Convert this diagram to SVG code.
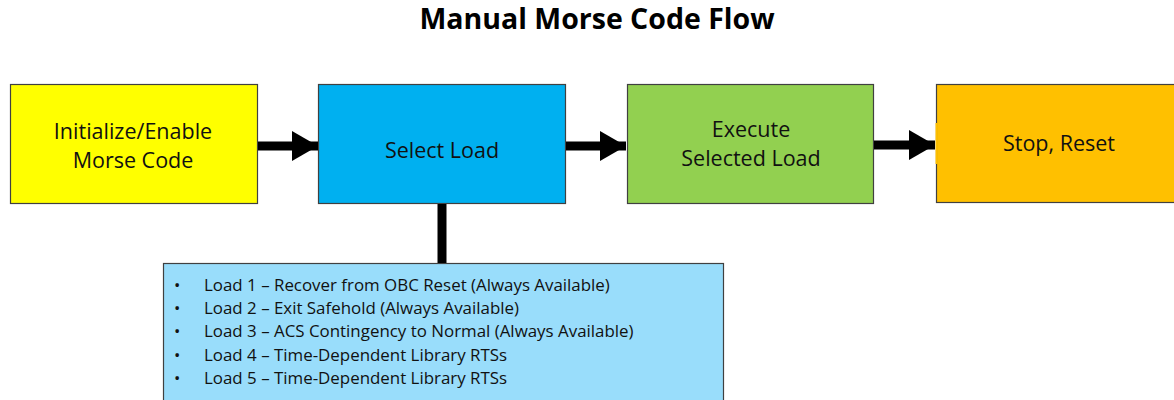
<svg xmlns="http://www.w3.org/2000/svg" width="1174" height="400" viewBox="0 0 1174 400">
<style>
.box{stroke:#404040;stroke-width:1.2}
.t{font-family:"Open Sans","Liberation Sans",sans-serif;font-size:21.5px;fill:#111;text-anchor:middle}
.li{font-family:"Open Sans","Liberation Sans",sans-serif;font-size:16.9px;fill:#111}
.title{font-family:"Open Sans","Liberation Sans",sans-serif;font-size:28.5px;font-weight:bold;fill:#000;text-anchor:middle}
.conn{stroke:#000;stroke-width:9;fill:none}
</style>
<defs>
<marker id="ah" markerWidth="26" markerHeight="30" refX="26" refY="15" markerUnits="userSpaceOnUse" orient="auto">
<path d="M0,0 L26,15 L0,30 Z" fill="#000"/>
</marker>
</defs>
<rect width="1174" height="400" fill="#fff"/>
<text class="title" x="597" y="29">Manual Morse Code Flow</text>
<g id="n1">
<rect class="box" x="10.5" y="84.5" width="247" height="119" fill="#FFFF00"/>
<text class="t" x="133" y="139">Initialize/Enable</text>
<text class="t" x="133" y="168">Morse Code</text>
</g>
<g id="n2">
<rect class="box" x="318.5" y="84.5" width="247" height="119" fill="#00B0F0"/>
<text class="t" x="442" y="158">Select Load</text>
</g>
<g id="n3">
<rect class="box" x="627.5" y="84.5" width="246" height="119" fill="#92D050"/>
<text class="t" x="751" y="137">Execute</text>
<text class="t" x="751" y="166">Selected Load</text>
</g>
<g id="n4">
<rect class="box" x="936.5" y="84.5" width="250" height="118" fill="#FFC000"/>
<line x1="936.5" y1="123" x2="936.5" y2="164" stroke="#FFC000" stroke-width="2"/>
<text class="t" x="1059" y="151">Stop, Reset</text>
</g>
<g id="n5">
<rect class="box" x="163.5" y="263.5" width="560" height="145" fill="#99DDFB"/>
<g class="li">
<text x="174" y="291">•</text><text x="204" y="291">Load 1 – Recover from OBC Reset (Always Available)</text>
<text x="174" y="314">•</text><text x="204" y="314">Load 2 – Exit Safehold (Always Available)</text>
<text x="174" y="337">•</text><text x="204" y="337">Load 3 – ACS Contingency to Normal (Always Available)</text>
<text x="174" y="361">•</text><text x="204" y="361">Load 4 – Time-Dependent Library RTSs</text>
<text x="174" y="384">•</text><text x="204" y="384">Load 5 – Time-Dependent Library RTSs</text>
</g>
</g>
<g id="connectors">
<line class="conn" x1="258" y1="146" x2="318" y2="146" marker-end="url(#ah)"/>
<line class="conn" x1="566" y1="146" x2="626" y2="146" marker-end="url(#ah)"/>
<line class="conn" x1="874" y1="145" x2="935" y2="145" marker-end="url(#ah)"/>
<line class="conn" x1="442" y1="204" x2="442" y2="263" stroke-width="8"/>
</g>
</svg>
